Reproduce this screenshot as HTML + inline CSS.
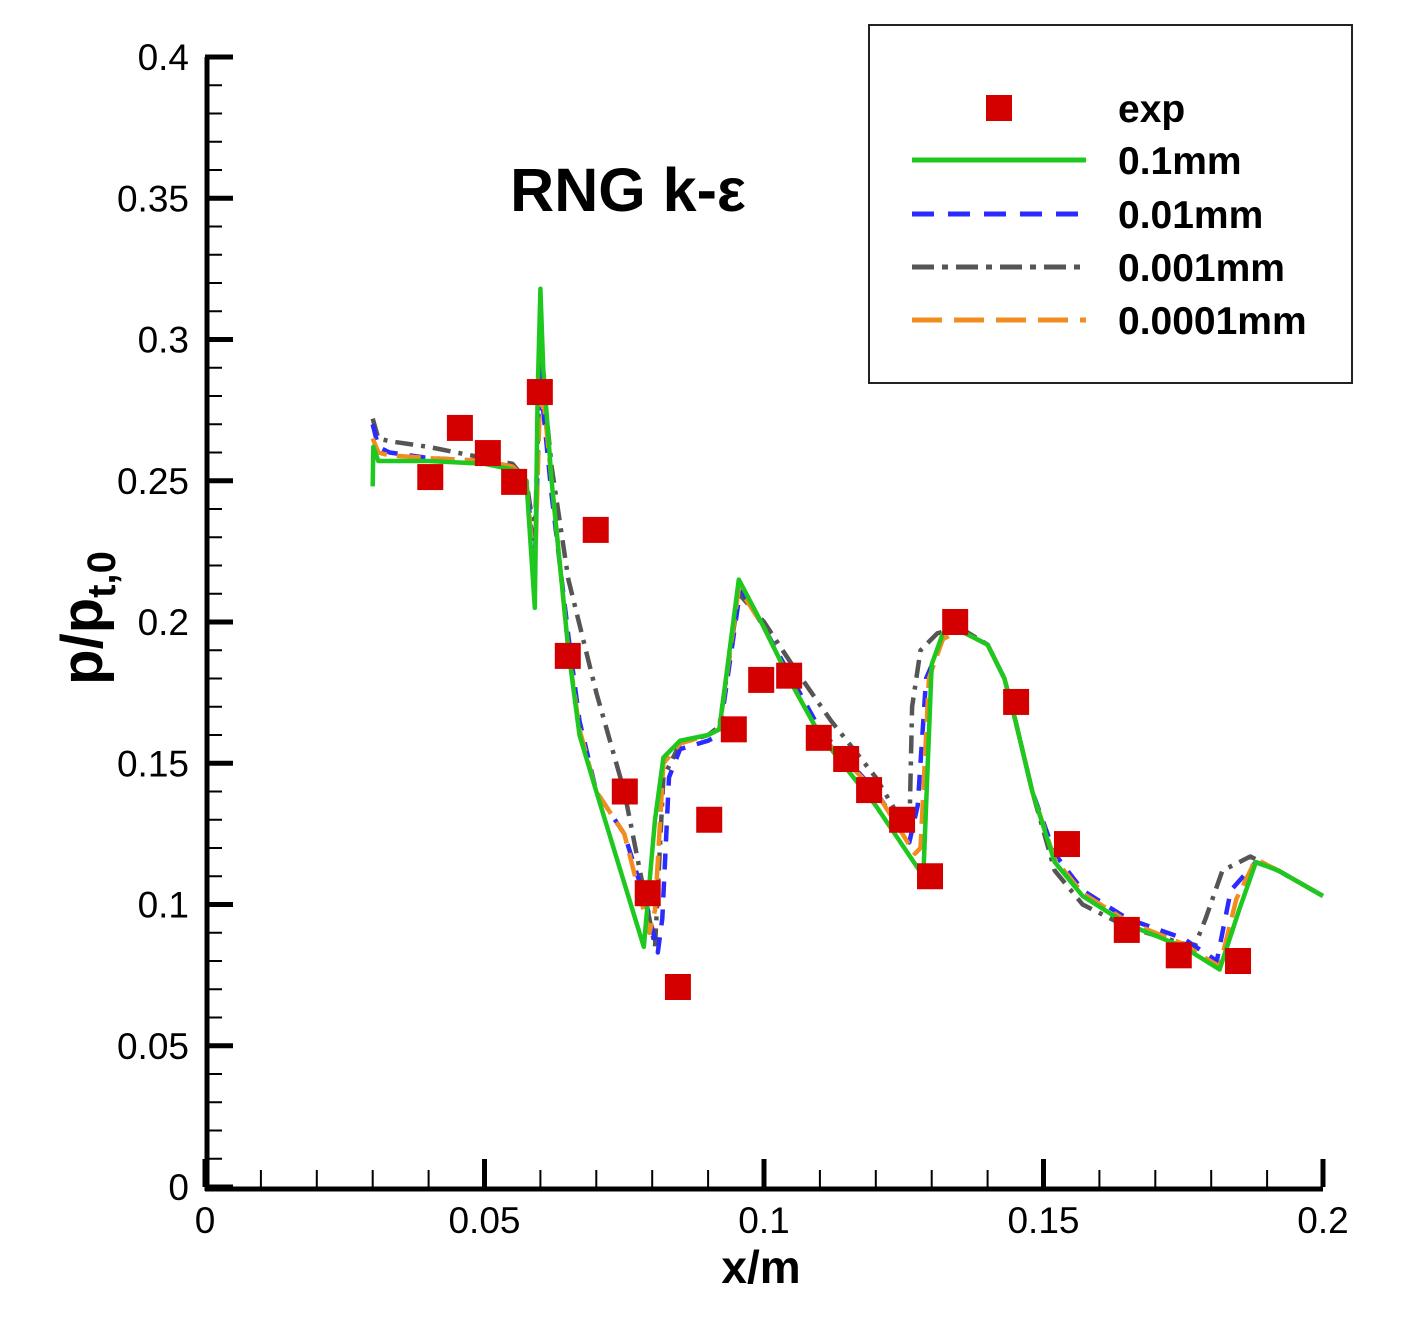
<!DOCTYPE html>
<html><head><meta charset="utf-8"><style>
html,body{margin:0;padding:0;background:#fff;}
svg{display:block;font-family:"Liberation Sans",Arial,sans-serif;}
</style></head><body>
<svg id="chart" width="1404" height="1317" viewBox="0 0 1404 1317">
<g id="axes"></g>
<g id="series"></g>
<text x="628" y="211" font-size="61" font-weight="bold" text-anchor="middle">RNG k-ε</text>
<text x="761" y="1283" font-size="46" font-weight="bold" text-anchor="middle">x/m</text>
<text transform="translate(102,618) rotate(-90)" font-size="58" font-weight="bold" text-anchor="middle">p/p<tspan font-size="40" dy="13">t,0</tspan></text>
<g id="legend">
<rect x="869" y="25" width="483" height="358" fill="#fff" stroke="#222" stroke-width="2"/>
</g>
</svg>
<script>
const xTicks=[0,0.05,0.1,0.15,0.2];
const xTickLabels=["0","0.05","0.1","0.15","0.2"];
const yTicks=[0,0.05,0.1,0.15,0.2,0.25,0.3,0.35,0.4];
const yTickLabels=["0","0.05","0.1","0.15","0.2","0.25","0.3","0.35","0.4"];
const expX=[0.0403,0.0456,0.0506,0.0553,0.0599,0.0649,0.0699,0.0751,0.0792,0.0846,0.0902,0.0946,0.0995,0.1045,0.1098,0.1147,0.1188,0.1247,0.1297,0.1342,0.1451,0.1542,0.1649,0.1742,0.1848];
const expY=[0.2513,0.2687,0.2598,0.2496,0.2814,0.188,0.2326,0.140,0.104,0.0708,0.130,0.162,0.1795,0.181,0.159,0.1515,0.1405,0.130,0.110,0.200,0.1717,0.1214,0.091,0.082,0.080];
const g1X=[0.030,0.0301,0.031,0.040,0.050,0.055,0.0575,0.059,0.0595,0.060,0.0605,0.062,0.065,0.067,0.070,0.0785,0.0805,0.082,0.085,0.090,0.092,0.0955,0.100,0.105,0.110,0.120,0.1285,0.130,0.132,0.135,0.140,0.143,0.145,0.148,0.152,0.157,0.165,0.175,0.1815,0.185,0.188,0.192,0.200];
const g1Y=[0.248,0.262,0.257,0.257,0.256,0.254,0.250,0.205,0.280,0.318,0.290,0.250,0.190,0.160,0.140,0.085,0.130,0.152,0.158,0.160,0.162,0.215,0.198,0.178,0.160,0.135,0.110,0.185,0.196,0.197,0.192,0.180,0.165,0.140,0.115,0.103,0.093,0.085,0.077,0.098,0.115,0.112,0.103];
const g2X=[0.030,0.031,0.033,0.040,0.050,0.055,0.0575,0.059,0.060,0.0605,0.062,0.065,0.067,0.070,0.075,0.079,0.081,0.0818,0.083,0.085,0.090,0.092,0.0958,0.100,0.105,0.110,0.120,0.126,0.1275,0.129,0.132,0.135,0.140,0.143,0.145,0.148,0.152,0.157,0.165,0.175,0.181,0.1835,0.188,0.192,0.200];
const g2Y=[0.270,0.262,0.260,0.258,0.257,0.255,0.250,0.220,0.290,0.275,0.245,0.195,0.165,0.140,0.125,0.100,0.083,0.095,0.145,0.155,0.158,0.160,0.212,0.198,0.180,0.162,0.140,0.122,0.135,0.180,0.194,0.197,0.192,0.180,0.165,0.140,0.118,0.105,0.095,0.088,0.080,0.105,0.115,0.112,0.103];
const g3X=[0.030,0.031,0.033,0.040,0.050,0.055,0.0575,0.059,0.060,0.0605,0.062,0.065,0.070,0.075,0.078,0.0805,0.082,0.085,0.090,0.092,0.0955,0.100,0.105,0.112,0.120,0.126,0.1265,0.128,0.131,0.135,0.140,0.143,0.145,0.148,0.152,0.157,0.165,0.177,0.179,0.182,0.187,0.192,0.200];
const g3Y=[0.272,0.265,0.264,0.262,0.258,0.256,0.250,0.230,0.295,0.285,0.255,0.215,0.175,0.140,0.110,0.085,0.145,0.157,0.160,0.163,0.210,0.200,0.185,0.165,0.145,0.125,0.170,0.190,0.196,0.198,0.192,0.180,0.165,0.140,0.112,0.100,0.092,0.085,0.095,0.112,0.117,0.112,0.103];
const g4X=[0.030,0.031,0.033,0.040,0.050,0.055,0.0575,0.059,0.060,0.0605,0.062,0.065,0.067,0.070,0.075,0.0795,0.0805,0.082,0.085,0.090,0.092,0.0955,0.100,0.105,0.110,0.120,0.127,0.128,0.1295,0.132,0.135,0.140,0.143,0.145,0.148,0.152,0.157,0.165,0.175,0.1815,0.1845,0.188,0.192,0.200];
const g4Y=[0.265,0.260,0.259,0.258,0.257,0.255,0.250,0.215,0.285,0.280,0.250,0.190,0.162,0.140,0.125,0.090,0.098,0.150,0.157,0.160,0.162,0.212,0.198,0.178,0.160,0.140,0.118,0.120,0.180,0.194,0.197,0.192,0.180,0.165,0.140,0.116,0.104,0.094,0.086,0.078,0.102,0.116,0.112,0.103];

const X0=205,X1=1323,Y0=1187,Y1=57;
const sx=v=>X0+(v-0)/(0.2-0)*(X1-X0);
const sy=v=>Y0-(v-0)/(0.4-0)*(Y0-Y1);
const NS="http://www.w3.org/2000/svg";
function mk(tag,parent,attrs){const e=document.createElementNS(NS,tag);for(const k in attrs)e.setAttribute(k,attrs[k]);parent.appendChild(e);return e;}
const axes=document.getElementById('axes');
let e;
e=mk('line',axes,{x1:X0,y1:Y0+2,x2:X1,y2:Y0+2,stroke:'#000','stroke-width':5});


e=mk('line',axes,{x1:X0+2,y1:Y1,x2:X0+2,y2:Y0+4,stroke:'#000','stroke-width':5});


for(let i=0;i<=20;i++){const v=i*0.01;const maj=i%5===0;
 e=mk('line',axes,{x1:sx(v),y1:Y0,x2:sx(v),y2:Y0-(maj?28:17),stroke:'#000','stroke-width':maj?5:2});
 
 }
for(let i=0;i<=40;i++){const v=i*0.01;const maj=i%5===0;
 e=mk('line',axes,{x1:X0,y1:sy(v),x2:X0+(maj?28:17),y2:sy(v),stroke:'#000','stroke-width':maj?5:2});
 
 }
xTicks.forEach((v,i)=>{e=mk('text',axes,{x:sx(v),y:1233,'font-size':37,'text-anchor':'middle'});e.textContent=xTickLabels[i];
 
 });
yTicks.forEach((v,i)=>{e=mk('text',axes,{x:189,y:sy(v)+13,'font-size':37,'text-anchor':'end'});e.textContent=yTickLabels[i];
 
 });
const ser=document.getElementById('series');
const defs=[[g3X,g3Y,'#555','18,8,4,8','series-0.001mm'],[g2X,g2Y,'#2b2bff','16,12','series-0.01mm'],[g4X,g4Y,'#f28c1e','24,10','series-0.0001mm'],[g1X,g1Y,'#1ec81e','','series-0.1mm']];
defs.forEach(d=>{const pts=d[0].map((x,i)=>sx(x).toFixed(1)+','+sy(d[1][i]).toFixed(1)).join(' ');
 e=mk('polyline',ser,{points:pts,fill:'none',stroke:d[2],'stroke-width':4.5,'stroke-dasharray':d[3],'stroke-linejoin':'round'});
 
 });
expX.forEach((x,i)=>{e=mk('rect',ser,{x:sx(x)-13,y:sy(expY[i])-13,width:26,height:26,fill:'#d40000'});
 
 });
const lg=document.getElementById('legend');
e=mk('rect',lg,{x:986,y:95,width:26,height:26,fill:'#d40000'});


const labels=['exp','0.1mm','0.01mm','0.001mm','0.0001mm'];
const ly=[108,160,214,267,320];
const lst=[null,['#1ec81e',''],['#2b2bff','22,14'],['#555','22,8,6,8'],['#f28c1e','30,12']];
labels.forEach((t,i)=>{
 if(i>0){e=mk('line',lg,{x1:912,y1:ly[i],x2:1086,y2:ly[i],stroke:lst[i][0],'stroke-width':5,'stroke-dasharray':lst[i][1]});
  
  }
 e=mk('text',lg,{x:1118,y:ly[i]+14,'font-size':39,'font-weight':'bold'});e.textContent=t;
 
 
});
</script>
</body></html>
